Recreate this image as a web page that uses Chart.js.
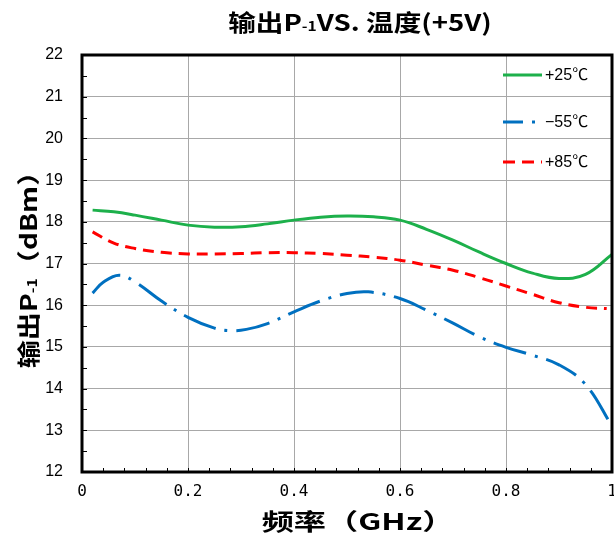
<!DOCTYPE html>
<html>
<head>
<meta charset="utf-8">
<script src="https://cdn.jsdelivr.net/npm/chart.js@4.4.1/dist/chart.umd.min.js"></script>
<style>
  html, body { margin: 0; padding: 0; background: #fff; }
  #wrap { width: 614px; height: 539px; position: relative; }
</style>
</head>
<body>
<div id="wrap"><canvas id="chart"></canvas></div>
<script>
// Data (frequency in GHz, P-1 in dBm)
const freq25 = [0.02, 0.06, 0.10, 0.15, 0.20, 0.25, 0.30, 0.35, 0.40, 0.45, 0.50, 0.55, 0.60, 0.65, 0.70, 0.75, 0.80, 0.85, 0.90, 0.95, 1.00];
const p25    = [18.28, 18.24, 18.16, 18.04, 17.92, 17.87, 17.88, 17.95, 18.04, 18.11, 18.14, 18.12, 18.04, 17.82, 17.56, 17.27, 17.00, 16.77, 16.64, 16.74, 17.22];

const freqM55 = [0.02, 0.04, 0.07, 0.10, 0.15, 0.20, 0.25, 0.28, 0.31, 0.35, 0.40, 0.45, 0.50, 0.54, 0.60, 0.65, 0.70, 0.75, 0.80, 0.85, 0.90, 0.95, 1.00];
const pM55    = [16.29, 16.55, 16.72, 16.56, 16.10, 15.71, 15.45, 15.39, 15.42, 15.56, 15.84, 16.10, 16.28, 16.32, 16.16, 15.88, 15.57, 15.24, 14.99, 14.80, 14.57, 14.10, 13.10];

const freq85 = [0.02, 0.06, 0.10, 0.15, 0.20, 0.25, 0.30, 0.35, 0.40, 0.45, 0.50, 0.55, 0.60, 0.65, 0.70, 0.75, 0.80, 0.85, 0.90, 0.95, 0.99];
const p85    = [17.76, 17.49, 17.36, 17.27, 17.23, 17.23, 17.24, 17.26, 17.26, 17.24, 17.20, 17.15, 17.08, 16.96, 16.84, 16.66, 16.46, 16.26, 16.06, 15.95, 15.92];

const seriesLabels = ['+25℃', '−55℃', '+85℃'];
const xTicks = [0, 0.2, 0.4, 0.6, 0.8, 1];
const yTicks = [12, 13, 14, 15, 16, 17, 18, 19, 20, 21, 22];

const toPoints = (xs, ys) => xs.map((x, i) => ({x: x, y: ys[i]}));

const CJK = '"Noto Sans CJK SC", "Noto Sans", sans-serif';

// draws text made of normal and subscript pieces, centred on (cx, cy),
// stretched horizontally to mimic the wide heiti face of the original
function drawRich(ctx, parts, cx, cy, size, stretch) {
    const subSize = Math.round(size * 0.55);
    let total = 0;
    parts.forEach(p => {
        ctx.font = 'bold ' + (p.sub ? subSize : size) + 'px ' + CJK;
        p.w = ctx.measureText(p.t).width;
        total += p.w;
    });
    ctx.save();
    ctx.translate(cx, cy);
    ctx.scale(stretch, 1);
    let x = -total / 2;
    ctx.textAlign = 'left';
    ctx.textBaseline = 'middle';
    parts.forEach(p => {
        ctx.font = 'bold ' + (p.sub ? subSize : size) + 'px ' + CJK;
        ctx.fillText(p.t, x, p.sub ? size * 0.18 : 0);
        x += p.w;
    });
    ctx.restore();
}

const decorPlugin = {
    id: 'decor',
    afterDraw(chart) {
        const ctx = chart.ctx;
        const a = chart.chartArea;
        const xs = chart.scales.x, ys = chart.scales.y;
        ctx.save();
        ctx.fillStyle = '#000';
        ctx.strokeStyle = '#000';

        // minor ticks (inside)
        ctx.lineWidth = 1;
        ctx.beginPath();
        for (let i = 1; i < 25; i++) {
            const px = Math.round(xs.getPixelForValue(i * 0.04)) + 0.5;
            ctx.moveTo(px, a.bottom);
            ctx.lineTo(px, a.bottom - 4);
        }
        for (let i = 1; i < 20; i++) {
            const py = Math.round(ys.getPixelForValue(12 + i * 0.5)) + 0.5;
            ctx.moveTo(a.left, py);
            ctx.lineTo(a.left + 5, py);
        }
        ctx.stroke();

        // frame
        ctx.lineWidth = 3;
        ctx.strokeRect(a.left, a.top, a.right - a.left, a.bottom - a.top);

        // titles
        drawRich(ctx, [{t: '输出P'}, {t: '-1', sub: true}, {t: 'VS. 温度(+5V)'}], 360, 22, 23, 1.2);
        ctx.save();
        ctx.translate(28, 263);
        ctx.rotate(-Math.PI / 2);
        drawRich(ctx, [{t: '输出P'}, {t: '-1', sub: true}, {t: '（dBm）'}], 0, 0, 23, 1.22);
        ctx.restore();
        drawRich(ctx, [{t: '频率（GHz）'}], 358, 521, 23, 1.4);

        // legend inside plot, top right
        const rows = [20, 67, 107];
        chart.data.datasets.forEach((ds, i) => {
            const y = a.top + rows[i];
            ctx.save();
            ctx.strokeStyle = ds.borderColor;
            ctx.lineWidth = 3;
            ctx.setLineDash(ds.legendDash || []);
            ctx.lineCap = 'butt';
            ctx.beginPath();
            ctx.moveTo(a.right - 109, y);
            ctx.lineTo(a.right - 70, y);
            ctx.stroke();
            ctx.restore();
            ctx.font = '16px "Liberation Sans", ' + CJK;
            ctx.textAlign = 'left';
            ctx.textBaseline = 'middle';
            ctx.fillStyle = '#000';
            ctx.fillText(ds.label, a.right - 67, y + 1);
        });
        ctx.restore();
    }
};

new Chart(document.getElementById('chart'), {
    type: 'line',
    data: {
        datasets: [
            {
                label: seriesLabels[0],
                data: toPoints(freq25, p25),
                borderColor: '#1DB04B',
                borderWidth: 3,
                legendDash: []
            },
            {
                label: seriesLabels[1],
                data: toPoints(freqM55, pM55),
                borderColor: '#0070C0',
                borderWidth: 3,
                borderDash: [34, 9, 3, 9],
                legendDash: [20, 9, 3, 9]
            },
            {
                label: seriesLabels[2],
                data: toPoints(freq85, p85),
                borderColor: '#FF0000',
                borderWidth: 3,
                borderDash: [11, 7],
                legendDash: [12, 7]
            }
        ]
    },
    options: {
        responsive: true,
        maintainAspectRatio: false,
        animation: false,
        layout: {padding: {left: 0, right: 2, top: 55, bottom: 0}},
        elements: {
            point: {radius: 0},
            line: {tension: 0.4, fill: false}
        },
        plugins: {
            legend: {display: false},
            title: {display: false},
            tooltip: {enabled: false}
        },
        scales: {
            x: {
                type: 'linear',
                min: 0,
                max: 1,
                afterFit(scale) {
                    scale.height = 67;
                    scale.paddingLeft = 0;
                    scale.paddingRight = 0;
                },
                afterBuildTicks(scale) { scale.ticks = xTicks.map(v => ({value: v})); },
                grid: {color: '#a8a8a8', lineWidth: 1, drawTicks: false},
                border: {display: false},
                ticks: {
                    padding: 10,
                    color: '#000',
                    font: {family: '"DejaVu Sans Mono"', size: 16},
                    callback: v => (v === 0 || v === 1) ? String(v) : v.toFixed(1)
                }
            },
            y: {
                min: 12,
                max: 22,
                afterFit(scale) {
                    scale.width = 82;
                    scale.paddingTop = 0;
                    scale.paddingBottom = 0;
                },
                afterBuildTicks(scale) { scale.ticks = yTicks.map(v => ({value: v})); },
                grid: {color: '#a8a8a8', lineWidth: 1, drawTicks: false},
                border: {display: false},
                ticks: {
                    padding: 19,
                    color: '#000',
                    font: {family: '"Liberation Sans"', size: 16}
                }
            }
        }
    },
    plugins: [decorPlugin]
});
</script>
</body>
</html>
